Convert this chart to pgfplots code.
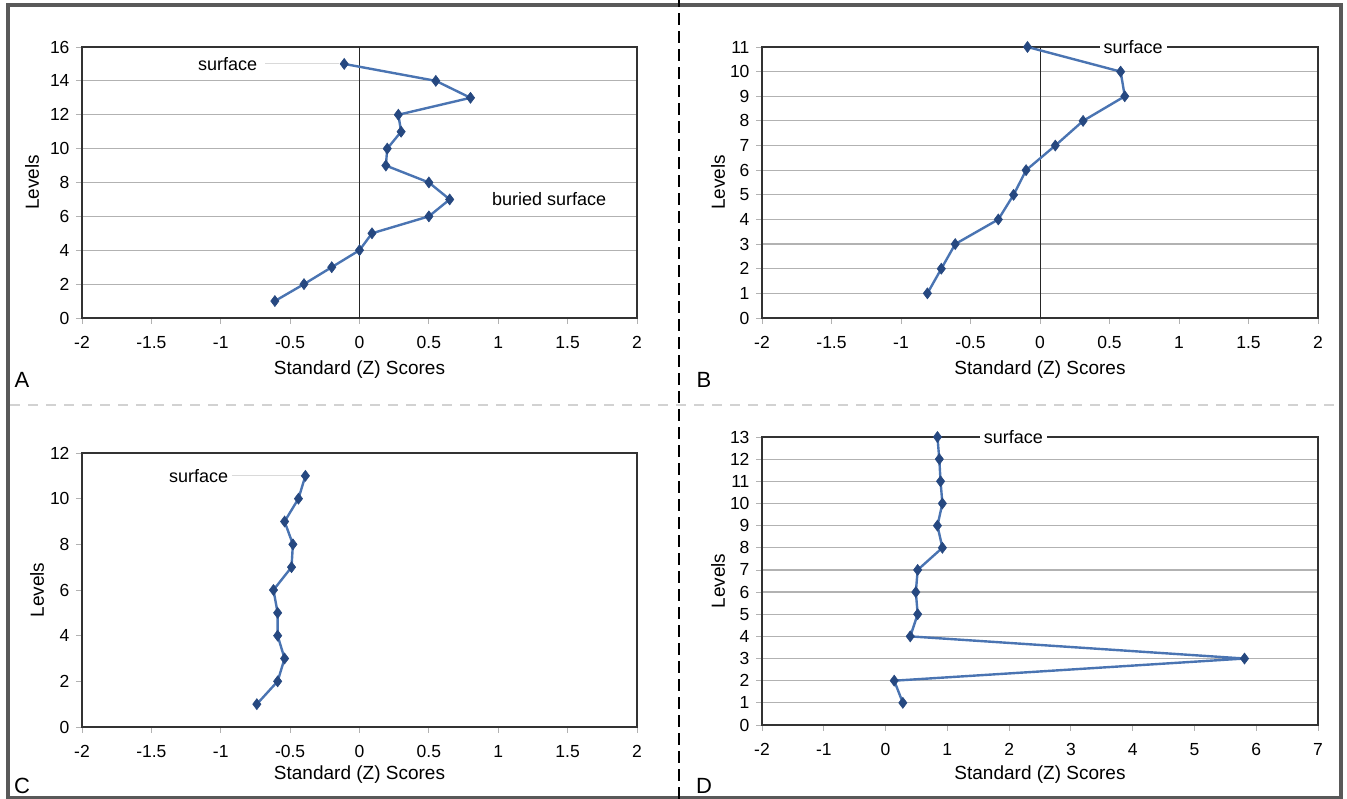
\documentclass[border=0pt]{standalone}
\usepackage{fontspec}
\setmainfont{Liberation Sans}
\usepackage{pgfplots}
\pgfplotsset{compat=1.18}
\definecolor{zline}{RGB}{74,116,178}
\definecolor{zmark}{RGB}{38,72,128}
\pgfplotsset{
  zstyle/.style={
    scale only axis, clip=false,
    anchor=south west,
    axis line style={line width=2.2pt, black!80},
    grid style={gray!60, line width=1.2pt},
    tick align=outside, major tick length=6pt,
    tick style={gray!60, line width=0.8pt},
    xtick pos=bottom, ytick pos=left,
    /pgf/number format/assume math mode=true,
    ticklabel style={font=\fontsize{17.5}{20}\selectfont},
    xticklabel style={yshift=-9pt},
    yticklabel style={xshift=-3pt},
    xlabel style={font=\fontsize{19}{22}\selectfont, at={(axis description cs:0.5,0)}, anchor=center},
    ylabel style={font=\fontsize{19}{22}\selectfont, anchor=center},
    xlabel={Standard (Z) Scores},
    ylabel={Levels},
  },
  zdata/.style={zline, line width=2.4pt, mark=diamond*, mark size=5.5pt,
    mark options={fill=zmark, draw=zmark, line width=0.6pt, solid}},
  zero/.style={gray!30!black, line width=1pt, no marks, forget plot},
}
\begin{document}
\begin{tikzpicture}
\useasboundingbox (0pt,0pt) rectangle (1347pt,799pt);
\draw[line width=3.5pt, gray!70!black] (8pt,1pt) rectangle (1341pt,794pt);
\draw[line width=2pt, black, dash pattern=on 12pt off 6pt] (679pt,0pt) -- (679pt,799pt);
\draw[line width=2pt, gray!35, dash pattern=on 10pt off 8pt] (10pt,394pt) -- (1340pt,394pt);

% Panel A
\begin{axis}[zstyle, at={(82pt,481pt)}, width=555pt, height=271pt,
  xmin=-2, xmax=2, ymin=0, ymax=16,
  xtick={-2,-1.5,-1,-0.5,0,0.5,1,1.5,2}, ytick={0,2,...,16},
  ymajorgrids,
  xlabel style={yshift=-52pt},
  ylabel style={at={(axis description cs:-0.09,0.5)}}]
\addplot[zero] coordinates {(0,0) (0,16)};
\draw[gray!30, line width=1pt] (axis cs:-0.68,15) -- (axis cs:-0.15,15);
\addplot[zdata] coordinates {
(-0.61,1) (-0.40,2) (-0.20,3) (0.00,4) (0.09,5) (0.50,6) (0.65,7) (0.50,8)
(0.19,9) (0.20,10) (0.30,11) (0.28,12) (0.80,13) (0.55,14) (-0.11,15)};
\node[font=\fontsize{18}{21}\selectfont] at (axis cs:-0.95,15) {surface};
\node[font=\fontsize{18}{21}\selectfont, anchor=west] at (axis cs:0.93,7) {buried surface};
\end{axis}

% Panel B
\begin{axis}[zstyle, at={(762pt,481pt)}, width=556pt, height=271pt,
  xmin=-2, xmax=2, ymin=0, ymax=11,
  xtick={-2,-1.5,-1,-0.5,0,0.5,1,1.5,2}, ytick={0,1,...,11},
  ymajorgrids,
  xlabel style={yshift=-52pt},
  ylabel style={at={(axis description cs:-0.079,0.5)}}]
\addplot[zero] coordinates {(0,0) (0,11)};
\node[font=\fontsize{18}{21}\selectfont, fill=white, inner sep=4pt] at (axis cs:0.67,11) {surface};
\addplot[zdata] coordinates {
(-0.81,1) (-0.71,2) (-0.61,3) (-0.30,4) (-0.19,5) (-0.10,6) (0.11,7) (0.31,8)
(0.61,9) (0.58,10) (-0.09,11)};
\end{axis}

% Panel C
\begin{axis}[zstyle, at={(82pt,72pt)}, width=555pt, height=274pt,
  xmin=-2, xmax=2, ymin=0, ymax=12,
  xtick={-2,-1.5,-1,-0.5,0,0.5,1,1.5,2}, ytick={0,2,...,12},
  xlabel style={yshift=-48pt},
  ylabel style={at={(axis description cs:-0.081,0.5)}}]
\draw[gray!30, line width=1pt] (axis cs:-0.92,11) -- (axis cs:-0.42,11);
\addplot[zdata] coordinates {
(-0.74,1) (-0.59,2) (-0.54,3) (-0.59,4) (-0.59,5) (-0.62,6) (-0.49,7) (-0.48,8)
(-0.54,9) (-0.44,10) (-0.39,11)};
\node[font=\fontsize{18}{21}\selectfont] at (axis cs:-1.16,11) {surface};
\end{axis}

% Panel D
\begin{axis}[zstyle, at={(762pt,74pt)}, width=556pt, height=288pt,
  xmin=-2, xmax=7, ymin=0, ymax=13,
  xtick={-2,-1,...,7}, ytick={0,1,...,13},
  ymajorgrids,
  xlabel style={yshift=-50pt},
  ylabel style={at={(axis description cs:-0.079,0.5)}}]
\node[font=\fontsize{18}{21}\selectfont, fill=white, inner sep=4pt] at (axis cs:2.07,13) {surface};
\addplot[zdata] coordinates {
(0.28,1) (0.14,2) (5.81,3) (0.40,4) (0.52,5) (0.49,6) (0.52,7) (0.92,8)
(0.84,9) (0.92,10) (0.89,11) (0.87,12) (0.84,13)};
\end{axis}

\node[font=\fontsize{22}{26}\selectfont] at (22pt,419pt) {A};
\node[font=\fontsize{22}{26}\selectfont] at (704pt,419pt) {B};
\node[font=\fontsize{22}{26}\selectfont] at (22pt,13pt) {C};
\node[font=\fontsize{22}{26}\selectfont] at (704pt,13pt) {D};
\end{tikzpicture}
\end{document}
